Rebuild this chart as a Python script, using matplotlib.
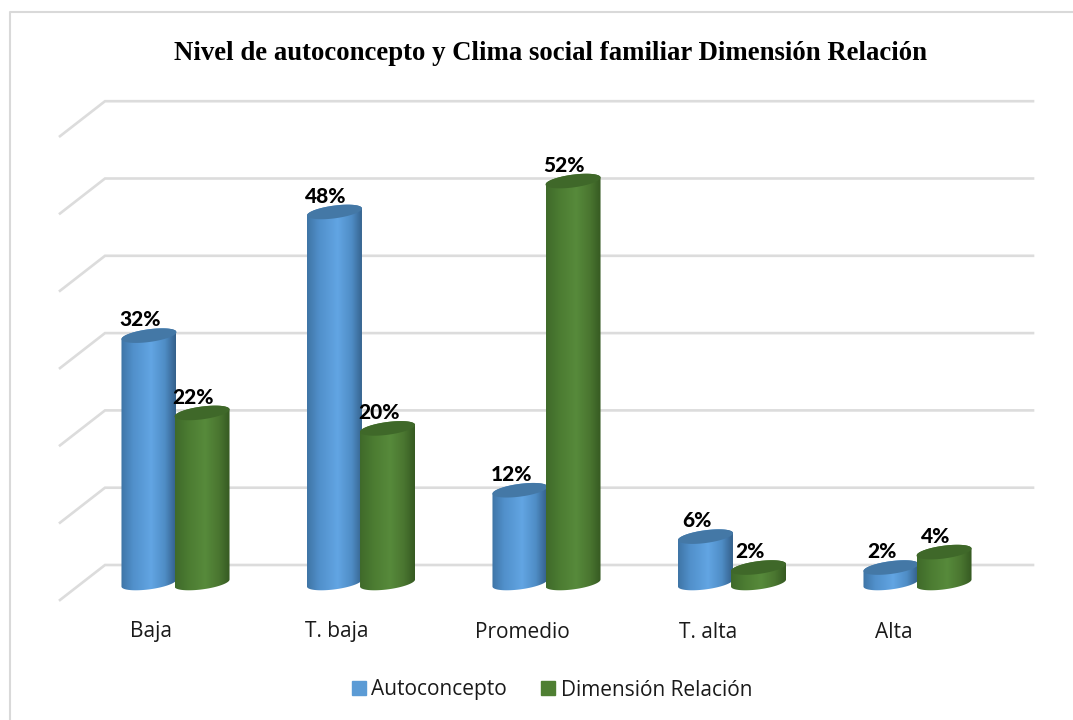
import matplotlib
matplotlib.use("Agg")
import matplotlib.pyplot as plt
import numpy as np
from matplotlib.colors import LinearSegmentedColormap
from matplotlib.lines import Line2D
from matplotlib.patches import Patch, PathPatch
from matplotlib.path import Path

categories = ["Baja", "T. baja", "Promedio", "T. alta", "Alta"]
autoconcepto = [32, 48, 12, 6, 2]
dimension = [22, 20, 52, 2, 4]
grid_values = [0, 10, 20, 30, 40, 50, 60]

W, H = 1073, 720
X0, X_STEP = 175.5, 185.5  # px of first category, px per category
Y0, Y_STEP = 583.0, 7.73  # px of value 0, px per percent

BAR_W = 55 / X_STEP
OFFSET = 0.143
CAP_B = 6.4 / Y_STEP
CAP_TILT = 3.5 / Y_STEP

blue_cmap = LinearSegmentedColormap.from_list(
    "b", [(0, "#3f75a6"), (0.22, "#5190cb"), (0.55, "#62a5e3"), (0.8, "#4f8dc6"), (1, "#34608b")]
)
green_cmap = LinearSegmentedColormap.from_list(
    "g", [(0, "#3f6a2a"), (0.25, "#4c7c32"), (0.55, "#578a3b"), (0.8, "#4a7630"), (1, "#365a22")]
)
BLUE_CAP = "#4478a6"
GREEN_CAP = "#3f6829"
BLUE = "#5b9bd5"
GREEN = "#4f7f32"


def cylinder(ax, cx, value, cmap, cap_color):
    a = BAR_W / 2
    t = np.linspace(0, 2 * np.pi, 120)

    def ring(v, tt):
        return cx + a * np.cos(tt), v + CAP_B * np.sin(tt) + CAP_TILT * np.cos(tt)

    tb = np.linspace(np.pi, 2 * np.pi, 60)
    tt = np.linspace(0, np.pi, 60)
    xb, yb = ring(0, tb)
    xt, yt = ring(value, tt)
    verts = np.column_stack([np.r_[xb, xt], np.r_[yb, yt]])
    body = PathPatch(Path(verts), transform=ax.transData, fc="none", ec="none")
    ax.add_patch(body)
    grad = np.linspace(0, 1, 128).reshape(1, -1)
    im = ax.imshow(
        grad,
        cmap=cmap,
        aspect="auto",
        extent=(cx - a, cx + a, -3, value + 3),
        zorder=3,
        interpolation="bilinear",
    )
    im.set_clip_path(body)
    xc, yc = ring(value, t)
    ax.fill(xc, yc, color=cap_color, zorder=3, lw=0)


fig = plt.figure(figsize=(W / 100, H / 100), dpi=100, facecolor="white")
ax = fig.add_axes([0, 0, 1, 1])
ax.set_axis_off()

xlim = ((0 - X0) / X_STEP, (W - X0) / X_STEP)
ylim = ((Y0 - H) / Y_STEP, Y0 / Y_STEP)

# only the left and top edges of the chart frame are in the crop
fig.add_artist(Line2D([9.5 / W, 9.5 / W, 1], [0, 1 - 11.5 / H, 1 - 11.5 / H],
                      transform=fig.transFigure, color="#d9d9d9", lw=1.5))

# back wall grid with the floor depth going off to the lower left
depth_x = 45 / X_STEP
depth_y = 35 / Y_STEP
back_left = (105 - X0) / X_STEP
back_right = (1033 - X0) / X_STEP
lift = (Y0 - 565) / Y_STEP
for g in grid_values:
    ax.plot(
        [back_left - depth_x, back_left, back_right],
        [g + lift - depth_y, g + lift, g + lift],
        color="#dcdcdc",
        lw=1.9,
        zorder=1,
        solid_joinstyle="miter",
    )

for i in range(len(categories)):
    cylinder(ax, i - OFFSET, autoconcepto[i], blue_cmap, BLUE_CAP)
    cylinder(ax, i + OFFSET, dimension[i], green_cmap, GREEN_CAP)
    ax.text(i - OFFSET - 0.047, autoconcepto[i] + 0.8, f"{autoconcepto[i]}%", ha="center", va="bottom",
            fontsize=15, fontweight=900, family="Lato", color="black", zorder=5)
    ax.text(i + OFFSET - 0.047, dimension[i] + 0.8, f"{dimension[i]}%", ha="center", va="bottom",
            fontsize=15, fontweight=900, family="Lato", color="black", zorder=5)
    ax.text(i - 0.13, (Y0 - 632) / Y_STEP, categories[i], ha="center", va="center",
            fontsize=15, family="Open Sans", color="#1a1a1a")

ax.set_xlim(*xlim)
ax.set_ylim(*ylim)

fig.text(550 / W, 1 - 54 / H, "Nivel de autoconcepto y Clima social familiar Dimensión Relación",
         ha="center", va="center", fontsize=19.3, fontweight="bold", family="Liberation Serif")

handles = [Patch(color=BLUE, label="Autoconcepto"), Patch(color=GREEN, label="Dimensión Relación")]
leg = fig.legend(
    handles=handles,
    loc="center",
    bbox_to_anchor=(552 / W, 1 - 690 / H),
    ncol=2,
    frameon=False,
    prop={"family": "Open Sans", "size": 15},
    handlelength=0.68,
    handleheight=0.68,
    handletextpad=0.25,
    columnspacing=1.64,
)
for t in leg.get_texts():
    t.set_color("#1a1a1a")

fig.savefig("out.png", dpi=100)
